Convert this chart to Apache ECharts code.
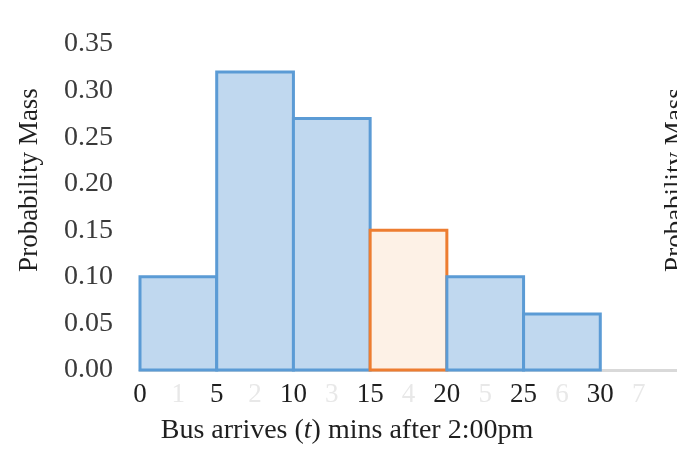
<!DOCTYPE html>
<html>
<head>
<meta charset="utf-8">
<script src="https://cdn.jsdelivr.net/npm/echarts@6/dist/echarts.min.js"></script>
<style>html,body{margin:0;padding:0;background:#fff;}#c{width:677px;height:460px;}</style>
</head>
<body>
<div id="c"></div>
<script>
const binStarts = [0, 5, 10, 15, 20, 25];
const binEnds = [5, 10, 15, 20, 25, 30];
const probs = [0.10, 0.32, 0.27, 0.15, 0.10, 0.06];
const highlightBin = 3;
const indexLabels = ['1', '2', '3', '4', '5', '6', '7'];
const yTitle = 'Probability Mass';
const xTitle = ['Bus arrives (', 't', ') mins after 2:00pm'];

const FONT = '"Liberation Serif", "DejaVu Serif", serif';
const data = binStarts.map((s, i) => [s, binEnds[i], probs[i], i === highlightBin ? 1 : 0]);

const chart = echarts.init(document.getElementById('c'));
chart.setOption({
  animation: false,
  grid: { left: 140, right: 0, top: 44, bottom: 90 },
  xAxis: {
    type: 'value', min: 0, max: 35, interval: 2.5,
    axisLine: { show: true, lineStyle: { color: '#d9d9d9', width: 3 } },
    axisTick: { show: false },
    splitLine: { show: false },
    axisLabel: {
      margin: 11, fontFamily: FONT, fontSize: 27, color: '#1f1f1f',
      showMaxLabel: false,
      formatter: function (v) {
        if (v >= 35) return '';
        if (Math.abs(v % 5) < 1e-9) return String(v);
        return '{f|' + indexLabels[Math.floor(v / 5)] + '}';
      },
      rich: { f: { fontFamily: FONT, fontSize: 27, color: '#e8e8e8' } }
    }
  },
  yAxis: {
    type: 'value', min: 0, max: 0.35, interval: 0.05,
    axisLine: { show: false }, axisTick: { show: false }, splitLine: { show: false },
    axisLabel: {
      margin: 27, fontFamily: FONT, fontSize: 28, color: '#3a3a3a',
      formatter: v => v.toFixed(2)
    }
  },
  graphic: [
    { type: 'text', x: 30, y: 180, rotation: Math.PI / 2,
      style: { text: yTitle, font: '27px ' + FONT, fill: '#1f1f1f', align: 'center', verticalAlign: 'middle' } },
    { type: 'text', x: 676, y: 180, rotation: Math.PI / 2,
      style: { text: yTitle, font: '27px ' + FONT, fill: '#1f1f1f', align: 'center', verticalAlign: 'middle' } },
    { type: 'text', x: 347, y: 431,
      style: { rich: { i: { font: 'italic 28px ' + FONT, fill: '#1f1f1f' }, n: { font: '28px ' + FONT, fill: '#1f1f1f' } },
        text: '{n|' + xTitle[0] + '}{i|' + xTitle[1] + '}{n|' + xTitle[2] + '}', align: 'center', verticalAlign: 'middle' } }
  ],
  series: [{
    type: 'custom',
    data: data,
    encode: { x: [0, 1], y: 2 },
    renderItem: function (params, api) {
      const x0 = api.value(0), x1 = api.value(1), v = api.value(2), hi = api.value(3);
      const p0 = api.coord([x0, v]);
      const p1 = api.coord([x1, 0]);
      return {
        type: 'rect',
        shape: { x: p0[0], y: p0[1], width: p1[0] - p0[0], height: p1[1] - p0[1] },
        style: hi ? { fill: '#fdf1e6', stroke: '#ed7d31', lineWidth: 3 }
                  : { fill: '#c0d8ef', stroke: '#5b9bd5', lineWidth: 3 }
      };
    }
  }]
});
</script>
</body>
</html>
